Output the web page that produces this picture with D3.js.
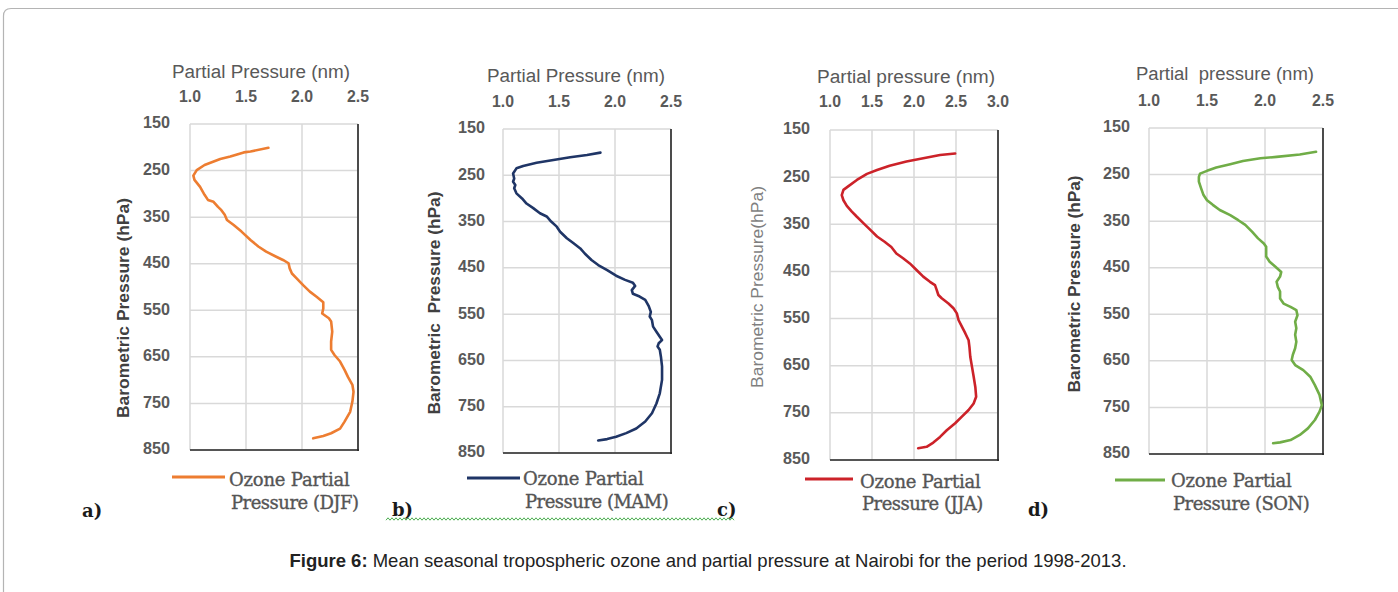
<!DOCTYPE html>
<html>
<head>
<meta charset="utf-8">
<script src="https://cdn.jsdelivr.net/npm/d3@7"></script>
<style>
  html, body { margin:0; padding:0; background:#fff; }
  svg { display:block; }
</style>
</head>
<body>
<svg id="fig" width="1398" height="592"></svg>
<script>
/* ===== Figure 6 — seasonal ozone partial pressure profiles, Nairobi ===== */

// shared axis ticks
const PRESSURE_TICKS = [150, 250, 350, 450, 550, 650, 750, 850];
const PP_TICKS_25 = [1.0, 1.5, 2.0, 2.5];
const PP_TICKS_30 = [1.0, 1.5, 2.0, 2.5, 3.0];

// [pressure hPa, partial pressure]
const DJF = [[201,1.70],[209,1.54],[211,1.48],[220,1.36],[225,1.27],[238,1.13],[249,1.06],[261,1.03],[270,1.04],
  [285,1.09],[302,1.13],[313,1.16],[317,1.21],[328,1.25],[335,1.28],[345,1.31],[356,1.33],[367,1.39],[381,1.46],
  [399,1.54],[413,1.61],[424,1.68],[435,1.77],[442,1.83],[449,1.88],[460,1.89],[471,1.91],[481,1.95],[496,2.01],
  [510,2.07],[521,2.13],[533,2.19],[546,2.19],[557,2.18],[567,2.24],[574,2.26],[596,2.27],[617,2.26],[625,2.26],
  [635,2.26],[646,2.29],[660,2.34],[678,2.38],[693,2.41],[710,2.45],[725,2.46],[746,2.45],[768,2.43],[789,2.38],
  [804,2.34],[814,2.26],[820,2.19],[825,2.10]];

const MAM = [[201,1.87],[206,1.75],[211,1.60],[217,1.45],[223,1.30],[230,1.18],[235,1.12],[246,1.09],[257,1.10],
  [264,1.09],[271,1.11],[278,1.10],[289,1.12],[300,1.17],[311,1.21],[321,1.27],[332,1.33],[339,1.39],[350,1.43],
  [361,1.48],[372,1.51],[386,1.57],[397,1.63],[408,1.69],[419,1.73],[433,1.79],[444,1.85],[455,1.93],[467,2.01],
  [476,2.09],[482,2.16],[489,2.18],[498,2.15],[506,2.16],[512,2.22],[519,2.27],[532,2.30],[545,2.32],[555,2.31],
  [563,2.33],[577,2.34],[588,2.37],[599,2.40],[606,2.42],[613,2.39],[620,2.38],[627,2.40],[642,2.41],[663,2.42],
  [692,2.42],[721,2.40],[743,2.37],[764,2.33],[782,2.27],[797,2.19],[807,2.10],[815,2.01],[820,1.93],[823,1.85]];

const JJA = [[200,2.49],[203,2.31],[210,2.11],[217,1.91],[226,1.71],[235,1.56],[243,1.44],[256,1.32],[269,1.22],
  [277,1.16],[288,1.14],[299,1.16],[311,1.20],[323,1.26],[334,1.32],[348,1.40],[362,1.48],[376,1.56],[387,1.65],
  [398,1.73],[412,1.79],[422,1.87],[433,1.95],[447,2.03],[461,2.11],[472,2.19],[479,2.25],[489,2.27],[500,2.29],
  [507,2.33],[518,2.41],[528,2.47],[539,2.51],[553,2.53],[567,2.57],[581,2.61],[596,2.65],[610,2.66],[631,2.67],
  [652,2.69],[673,2.71],[695,2.73],[716,2.74],[730,2.71],[744,2.65],[758,2.57],[772,2.49],[787,2.39],[801,2.31],
  [813,2.23],[822,2.15],[825,2.05]];

const SON = [[201,2.44],[207,2.30],[212,2.10],[215,1.96],[221,1.81],[228,1.70],[235,1.58],[242,1.50],[248,1.44],
  [255,1.43],[265,1.43],[280,1.45],[294,1.47],[305,1.50],[315,1.55],[326,1.61],[337,1.70],[348,1.77],[358,1.83],
  [373,1.89],[387,1.94],[398,1.99],[405,2.01],[416,2.01],[426,2.01],[437,2.04],[448,2.09],[459,2.14],[469,2.13],
  [480,2.10],[491,2.11],[501,2.13],[516,2.13],[527,2.16],[534,2.22],[541,2.27],[552,2.28],[566,2.26],[580,2.27],
  [594,2.26],[609,2.27],[623,2.26],[637,2.24],[648,2.23],[659,2.26],[670,2.33],[684,2.39],[702,2.43],[723,2.47],
  [745,2.49],[759,2.47],[777,2.43],[795,2.37],[809,2.30],[820,2.22],[825,2.13],[827,2.07]];

const SEASONS = ["DJF", "MAM", "JJA", "SON"];
const PANEL_TAGS = ["a)", "b)", "c)", "d)"];
const X_TITLES = ["Partial Pressure (nm)", "Partial Pressure (nm)", "Partial pressure (nm)", "Partial  pressure (nm)"];
const Y_TITLES = ["Barometric Pressure (hPa)", "Barometric  Pressure (hPa)", "Barometric Pressure(hPa)", "Barometric Pressure (hPa)"];
const CAPTION_BOLD = "Figure 6:";
const CAPTION_TEXT = " Mean seasonal tropospheric ozone and partial pressure at Nairobi for the period 1998-2013.";

/* ---------- layout (pixel boxes per panel) ---------- */
const PANELS = [
  { data:DJF, ticks:PP_TICKS_25, xMax:2.5, color:"#ed7d31", l:190, r:358, t:124, b:450,
    titleX:261, titleY:73, tickY:98, yTickR:170, yTitleX:125, yTitleC:308, yTitleLen:220, yBold:true,
    leg:{x1:172,x2:225,y:477,tx:229,ty1:486,ty2:509}, tag:{x:82,y:517} },
  { data:MAM, ticks:PP_TICKS_25, xMax:2.5, color:"#1f3566", l:503, r:671, t:129, b:453,
    titleX:576, titleY:77, tickY:103, yTickR:485, yTitleX:436, yTitleC:303, yTitleLen:223, yBold:true,
    leg:{x1:467,x2:520,y:478,tx:523,ty1:485,ty2:508}, tag:{x:392,y:516} },
  { data:JJA, ticks:PP_TICKS_30, xMax:3.0, color:"#cc2229", l:830, r:998, t:130, b:460,
    titleX:906, titleY:78, tickY:103, yTickR:810, yTitleX:759, yTitleC:287, yTitleLen:202, yBold:false,
    leg:{x1:805,x2:853,y:479,tx:860,ty1:488,ty2:510}, tag:{x:717,y:516} },
  { data:SON, ticks:PP_TICKS_25, xMax:2.5, color:"#70ad47", l:1149, r:1323, t:128, b:454,
    titleX:1225, titleY:75, tickY:102, yTickR:1130, yTitleX:1076, yTitleC:284, yTitleLen:217, yBold:true,
    leg:{x1:1115,x2:1165,y:480,tx:1171,ty1:487,ty2:510}, tag:{x:1028,y:516} }
];

const SANS = "'Liberation Sans', Arial, sans-serif";
const NARROW = "'Liberation Sans', Arial, sans-serif";
const SERIF = "'DejaVu Serif', 'Liberation Serif', serif";
const TXT = "#595959";

const svg = d3.select("#fig");

// outer frame (rounded, runs off right & bottom)
svg.append("path")
  .attr("d", "M3.5,600 L3.5,16 Q3.5,8.5 11,8.5 L1410,8.5")
  .attr("fill","none").attr("stroke","#b4b4b4").attr("stroke-width",1.2);

PANELS.forEach((P, i) => {
  const g = svg.append("g");
  const x = d3.scaleLinear().domain([1.0, P.xMax]).range([P.l, P.r]);
  const y = d3.scaleLinear().domain([150, 850]).range([P.t, P.b]);

  // gridlines
  g.append("g").selectAll("line").data(P.ticks).join("line")
    .attr("x1", d => x(d)).attr("x2", d => x(d)).attr("y1", P.t).attr("y2", P.b)
    .attr("stroke","#d9d9d9").attr("stroke-width",1.5);
  g.append("g").selectAll("line").data(PRESSURE_TICKS).join("line")
    .attr("x1", P.l).attr("x2", P.r).attr("y1", d => y(d)).attr("y2", d => y(d))
    .attr("stroke","#d9d9d9").attr("stroke-width",1.5);

  // dark axis lines (right + bottom)
  g.append("line").attr("x1",P.r).attr("x2",P.r).attr("y1",P.t).attr("y2",P.b+1)
    .attr("stroke","#262626").attr("stroke-width",1.6);
  g.append("line").attr("x1",P.l).attr("x2",P.r+1).attr("y1",P.b).attr("y2",P.b)
    .attr("stroke","#262626").attr("stroke-width",1.6);

  // top x tick labels (condensed bold look)
  g.append("g").selectAll("text").data(P.ticks).join("text")
    .attr("x", d => x(d)).attr("y", P.tickY)
    .attr("text-anchor","middle").attr("dominant-baseline","middle")
    .attr("font-family",NARROW).attr("font-weight",700).attr("font-size",16)
    .attr("textLength",22).attr("lengthAdjust","spacingAndGlyphs")
    .attr("fill",TXT).text(d => d.toFixed(1));

  // x title
  g.append("text").attr("x", P.titleX).attr("y", P.titleY)
    .attr("text-anchor","middle").attr("dominant-baseline","middle")
    .attr("font-family",SANS).attr("font-size",18).attr("fill",TXT)
    .attr("textLength", 178).attr("lengthAdjust","spacingAndGlyphs")
    .style("white-space","pre").text(X_TITLES[i]);

  // y tick labels
  g.append("g").selectAll("text").data(PRESSURE_TICKS).join("text")
    .attr("x", P.yTickR).attr("y", d => y(d))
    .attr("text-anchor","end").attr("dominant-baseline","middle")
    .attr("font-family",NARROW).attr("font-weight",700).attr("font-size",17)
    .attr("textLength",27).attr("lengthAdjust","spacingAndGlyphs")
    .attr("fill",TXT).text(d => d);

  // y title
  g.append("text")
    .attr("transform",`translate(${P.yTitleX},${P.yTitleC}) rotate(-90)`)
    .attr("text-anchor","middle").attr("dominant-baseline","middle")
    .attr("font-family", P.yBold ? NARROW : SANS)
    .attr("font-weight", P.yBold ? 700 : 400)
    .attr("font-size", P.yBold ? 17 : 16)
    .attr("textLength", P.yTitleLen).attr("lengthAdjust","spacingAndGlyphs")
    .attr("fill", P.yBold ? "#404040" : "#7f7f7f")
    .style("white-space","pre").text(Y_TITLES[i]);

  // profile
  const line = d3.line().x(d => x(d[1])).y(d => y(d[0]));
  g.append("path").attr("d", line(P.data))
    .attr("fill","none").attr("stroke",P.color).attr("stroke-width",2.6)
    .attr("stroke-linejoin","round").attr("stroke-linecap","round");

  // legend
  g.append("line").attr("x1",P.leg.x1).attr("x2",P.leg.x2).attr("y1",P.leg.y).attr("y2",P.leg.y)
    .attr("stroke",P.color).attr("stroke-width",2.8);
  g.append("text").attr("x",P.leg.tx).attr("y",P.leg.ty1)
    .attr("font-family",SERIF).attr("font-size",18).attr("fill","#555")
    .attr("stroke","#555").attr("stroke-width",0.35).attr("letter-spacing",-0.2)
    .text("Ozone Partial");
  g.append("text").attr("x",P.leg.tx+2).attr("y",P.leg.ty2)
    .attr("font-family",SERIF).attr("font-size",18).attr("fill","#555")
    .attr("stroke","#555").attr("stroke-width",0.35).attr("letter-spacing",-0.5)
    .text(`Pressure (${SEASONS[i]})`);

  // panel tag
  g.append("text").attr("x",P.tag.x).attr("y",P.tag.y)
    .attr("font-family",SERIF).attr("font-weight",700).attr("font-size",18).attr("fill","#1a1a1a")
    .text(PANEL_TAGS[i]);
});

// spell-check squiggle under "b) ... c)"
{
  const pts = [];
  for (let xx = 386, k = 0; xx <= 735; xx += 2, k++) pts.push([xx, 519 + (k % 2 ? -1.2 : 1.2)]);
  svg.append("path").attr("d", d3.line()(pts))
    .attr("fill","none").attr("stroke","#4caf50").attr("stroke-width",1);
}

// caption
const cap = svg.append("text").attr("x",708).attr("y",567).attr("text-anchor","middle")
  .attr("font-family",SANS).attr("font-size",18.5).attr("fill","#222");
cap.append("tspan").attr("font-weight",700).text(CAPTION_BOLD);
cap.append("tspan").style("white-space","pre").text(CAPTION_TEXT);
</script>
</body>
</html>
